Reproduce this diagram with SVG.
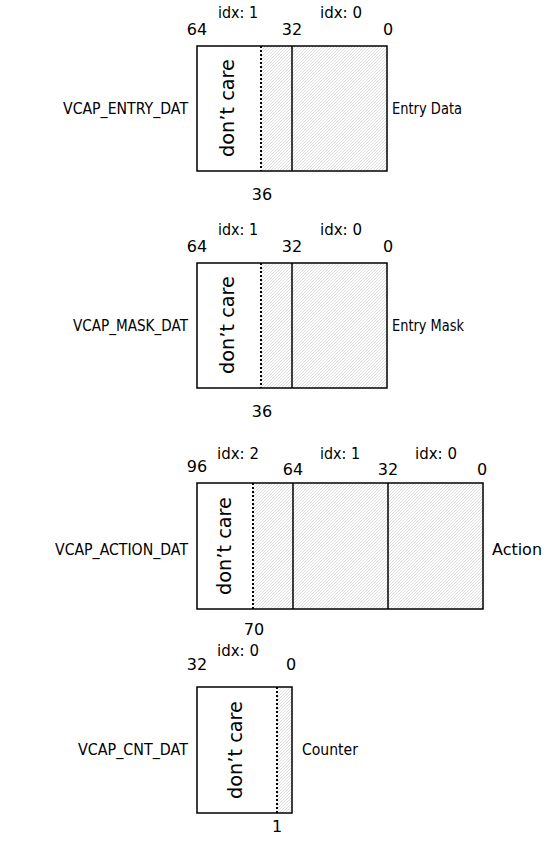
<svg xmlns="http://www.w3.org/2000/svg" width="547" height="841" viewBox="0 0 547 841">
<defs>
<pattern id="hatch" patternUnits="userSpaceOnUse" width="3" height="3">
<rect width="3" height="3" fill="#ffffff"/>
<path d="M-1,1 L1,-1 M0,3 L3,0 M2,4 L4,2" stroke="#c4c4c4" stroke-width="0.6"/>
</pattern>
<style>
text{font-family:"DejaVu Sans","Liberation Sans",sans-serif;font-size:16px;fill:#000}
.m{text-anchor:middle}
.e{text-anchor:end}
.dc{font-size:19px;text-anchor:middle}
.box{fill:none;stroke:#000;stroke-width:1.5}
.hf{fill:url(#hatch);stroke:none}
.sep{stroke:#000;stroke-width:1.5}
.dot{stroke:#000;stroke-width:2;stroke-dasharray:2 2}
</style>
</defs>
<rect width="547" height="841" fill="#fff"/>

<g id="entry">
<rect class="hf" x="261" y="46" width="126" height="125"/>
<line class="sep" x1="292" y1="46" x2="292" y2="171"/>
<line class="dot" x1="261" y1="46" x2="261" y2="171"/>
<rect class="box" x="197" y="46" width="190" height="125"/>
<text class="m" x="238" y="18" textLength="40" lengthAdjust="spacingAndGlyphs">idx: 1</text>
<text class="m" x="341" y="18" textLength="42" lengthAdjust="spacingAndGlyphs">idx: 0</text>
<text class="m" x="197" y="35">64</text>
<text class="m" x="292" y="35">32</text>
<text class="m" x="388" y="35">0</text>
<text class="dc" transform="translate(234,108) rotate(-90)" textLength="98" lengthAdjust="spacingAndGlyphs">don’t care</text>
<text class="e" x="188" y="114" textLength="125" lengthAdjust="spacingAndGlyphs">VCAP_ENTRY_DAT</text>
<text x="392" y="114" textLength="70" lengthAdjust="spacingAndGlyphs">Entry Data</text>
<text class="m" x="262" y="200">36</text>
</g>

<g id="mask">
<rect class="hf" x="261" y="263" width="126" height="125"/>
<line class="sep" x1="292" y1="263" x2="292" y2="388"/>
<line class="dot" x1="261" y1="263" x2="261" y2="388"/>
<rect class="box" x="197" y="263" width="190" height="125"/>
<text class="m" x="238" y="235" textLength="40" lengthAdjust="spacingAndGlyphs">idx: 1</text>
<text class="m" x="341" y="235" textLength="42" lengthAdjust="spacingAndGlyphs">idx: 0</text>
<text class="m" x="197" y="252">64</text>
<text class="m" x="292" y="252">32</text>
<text class="m" x="388" y="252">0</text>
<text class="dc" transform="translate(234,325) rotate(-90)" textLength="98" lengthAdjust="spacingAndGlyphs">don’t care</text>
<text class="e" x="188" y="331" textLength="115" lengthAdjust="spacingAndGlyphs">VCAP_MASK_DAT</text>
<text x="392" y="331" textLength="72" lengthAdjust="spacingAndGlyphs">Entry Mask</text>
<text class="m" x="262" y="417">36</text>
</g>

<g id="action">
<rect class="hf" x="253" y="483" width="230" height="126"/>
<line class="sep" x1="293" y1="483" x2="293" y2="609"/>
<line class="sep" x1="388" y1="483" x2="388" y2="609"/>
<line class="dot" x1="253" y1="483" x2="253" y2="609"/>
<rect class="box" x="197" y="483" width="286" height="126"/>
<text class="m" x="238" y="459" textLength="42" lengthAdjust="spacingAndGlyphs">idx: 2</text>
<text class="m" x="340" y="459" textLength="40" lengthAdjust="spacingAndGlyphs">idx: 1</text>
<text class="m" x="436" y="459" textLength="42" lengthAdjust="spacingAndGlyphs">idx: 0</text>
<text class="m" x="197" y="472">96</text>
<text class="m" x="293" y="475">64</text>
<text class="m" x="388" y="475">32</text>
<text class="m" x="482" y="475">0</text>
<text class="dc" transform="translate(231,546) rotate(-90)" textLength="98" lengthAdjust="spacingAndGlyphs">don’t care</text>
<text class="e" x="188" y="555" textLength="133" lengthAdjust="spacingAndGlyphs">VCAP_ACTION_DAT</text>
<text x="492" y="555" textLength="50" lengthAdjust="spacingAndGlyphs">Action</text>
<text class="m" x="254" y="635">70</text>
</g>

<g id="counter">
<rect class="hf" x="277" y="687" width="15" height="126"/>
<line class="dot" x1="277" y1="687" x2="277" y2="813"/>
<rect class="box" x="197" y="687" width="95" height="126"/>
<text class="m" x="238" y="656" textLength="42" lengthAdjust="spacingAndGlyphs">idx: 0</text>
<text class="m" x="197" y="670">32</text>
<text class="m" x="291" y="670">0</text>
<text class="dc" transform="translate(242,750) rotate(-90)" textLength="98" lengthAdjust="spacingAndGlyphs">don’t care</text>
<text class="e" x="188" y="755" textLength="110" lengthAdjust="spacingAndGlyphs">VCAP_CNT_DAT</text>
<text x="302" y="755" textLength="56" lengthAdjust="spacingAndGlyphs">Counter</text>
<text class="m" x="277" y="832">1</text>
</g>

<g id="connectors"></g>
</svg>
